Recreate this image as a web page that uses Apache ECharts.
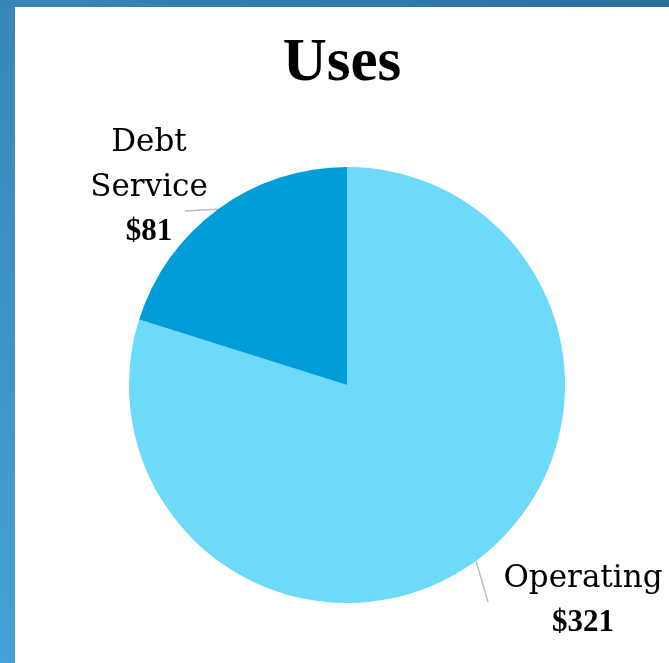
<!DOCTYPE html>
<html>
<head>
<meta charset="utf-8">
<script src="https://cdn.jsdelivr.net/npm/echarts@6/dist/echarts.min.js"></script>
<style>
  html, body { margin: 0; padding: 0; width: 669px; height: 663px; overflow: hidden; }
  body { position: relative; background: linear-gradient(to bottom, #3786b8 0%, #45a2d6 100%); }
  #topband { position: absolute; left: 0; top: 0; width: 669px; height: 7px;
    background: linear-gradient(to right, #3786b8 0%, #2b6f9c 100%); }
  #chart { position: absolute; left: 15px; top: 7px; width: 654px; height: 656px; background: #fff; }
</style>
</head>
<body>
<div id="topband"></div>
<div id="chart"></div>
<script>
var title = 'Uses';
var categories = ['Operating', 'Debt Service'];
var values = [321, 81];
var valueLabels = ['$321', '$81'];
var labelTexts = ['Operating', 'Debt\nService'];
var colors = ['#6cdaf8', '#009dd8'];

var chart = echarts.init(document.getElementById('chart'), null, { renderer: 'canvas' });

// label anchor positions (in chart coords) for each slice
var labelPos = [[568, 593], [134, 180]];
var lineEnds = [[473, 595], [170, 204]];

var data = categories.map(function (c, i) {
  return { name: c, value: values[i], itemStyle: { color: colors[i] } };
});

chart.setOption({
  animation: false,
  title: {
    text: title,
    left: 'center',
    top: 22,
    textStyle: { fontFamily: 'Liberation Serif', fontWeight: 'bold', fontSize: 61, color: '#000' }
  },
  series: [{
    type: 'pie',
    center: [332, 378],
    radius: 218,
    startAngle: 90,
    clockwise: true,
    data: data,
    label: {
      show: true,
      position: 'outside',
      formatter: function (p) {
        return '{n|' + labelTexts[p.dataIndex] + '}\n{v|' + valueLabels[p.dataIndex] + '}';
      },
      rich: {
        n: { fontFamily: 'DejaVu Serif', fontSize: 31, lineHeight: 45, color: '#000', align: 'center' },
        v: { fontFamily: 'Liberation Serif', fontWeight: 'bold', fontSize: 31, lineHeight: 43, color: '#000', align: 'center' }
      },
      align: 'center'
    },
    labelLine: {
      show: true,
      length: 10,
      length2: 10,
      lineStyle: { color: '#bdbdbd', width: 1.5 }
    },
    labelLayout: function (params) {
      var i = params.dataIndex;
      var p0 = params.labelLinePoints ? params.labelLinePoints[0] : null;
      var res = {
        x: labelPos[i][0],
        y: labelPos[i][1],
        align: 'center',
        verticalAlign: 'middle'
      };
      if (p0) {
        var e = lineEnds[i];
        res.labelLinePoints = [p0, [(p0[0] + e[0]) / 2, (p0[1] + e[1]) / 2], e];
      }
      return res;
    },
    emphasis: { disabled: true }
  }]
});
</script>
</body>
</html>
